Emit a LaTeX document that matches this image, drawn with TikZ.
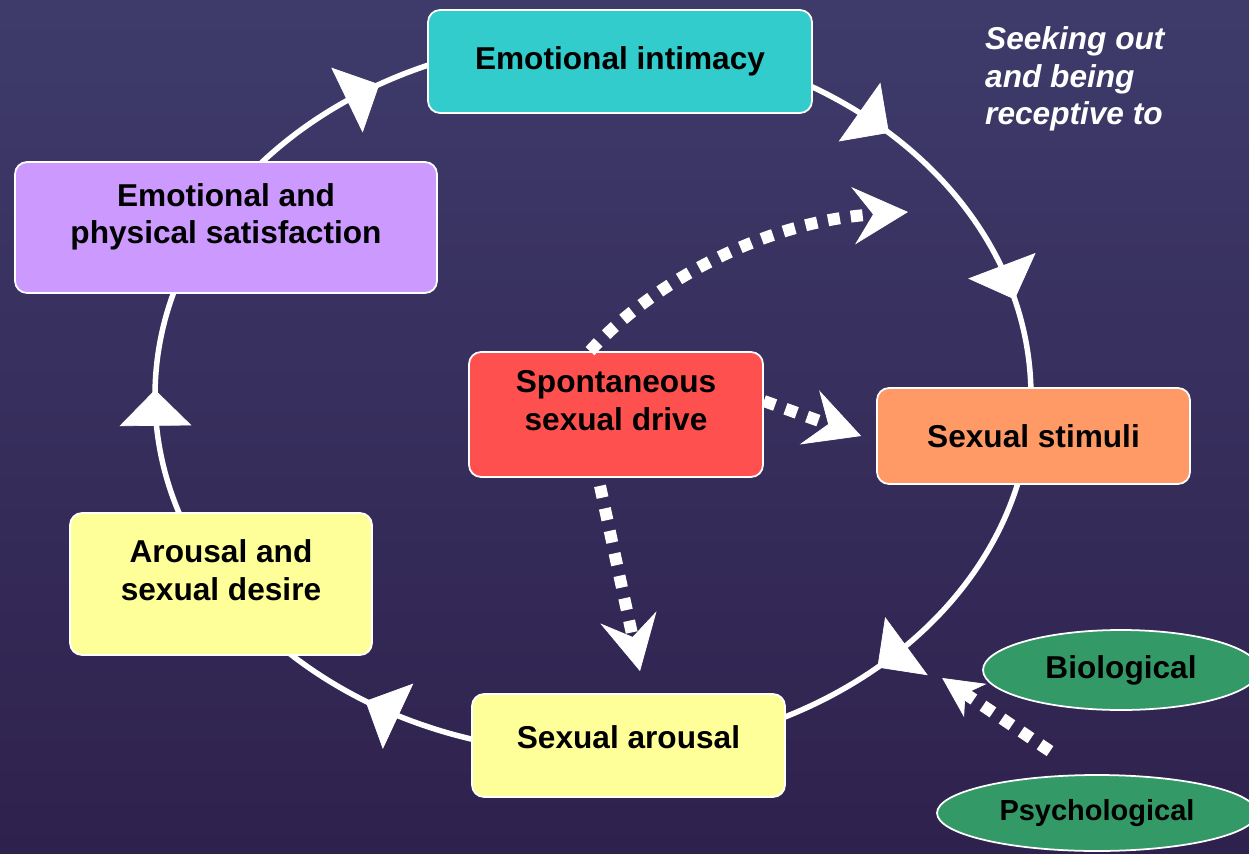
\documentclass[tikz,border=0pt]{standalone}
\usepackage{fontspec}
\setmainfont{Liberation Sans}
\usetikzlibrary{arrows.meta,positioning,calc,shapes}

\begin{document}
\begin{tikzpicture}[x=0.02cm,y=-0.02cm,
  box/.style={draw=white,line width=1pt,rounded corners=0.24cm,inner sep=0pt,
    align=center,text=black,font={\fontsize{18}{21.3}\selectfont\bfseries}},
  twoline/.style={text depth=0.56cm},
  oval/.style={ellipse,draw=white,line width=1pt,inner sep=0pt,text=black,
    font={\fontsize{18}{21}\selectfont\bfseries}},
  ring/.style={white,line width=0.11cm},
  dots/.style={white,line width=0.24cm,dash pattern=on 0.24cm off 0.22cm}]
  \def\ctop{rgb,255:red,62;green,59;blue,107}
  \def\cbot{rgb,255:red,47;green,33;blue,77}
  \def\cteal{rgb,255:red,51;green,204;blue,204}
  \def\clilac{rgb,255:red,204;green,153;blue,255}
  \def\cred{rgb,255:red,255;green,80;blue,80}
  \def\corange{rgb,255:red,255;green,153;blue,102}
  \def\cyellow{rgb,255:red,255;green,255;blue,153}
  \def\cleaf{rgb,255:red,51;green,153;blue,102}
  \def\bighead{Stealth[length=1.1cm,width=1.15cm,inset=0.4cm,line width=0.4pt]}

  \useasboundingbox (0,0) rectangle (1249,853);
  \shade[top color=\ctop,bottom color=\cbot] (0,0) rectangle (1249,853);

  % the cycle
  \coordinate (ctr) at (593,396);
  \draw[ring] (ctr) ellipse [x radius=438, y radius=357];
  \foreach \t in {49.5,121.3,181,240.8,312.5,344.3} {
    \pgfmathsetmacro{\s}{\t-3}
    \draw[ring,-{Triangle[length=0.72cm,width=1.44cm,line width=0.4pt]}]
      ($(ctr)+(\s:438 and 357)$) -- ($(ctr)+(\t:438 and 357)$);
  }

  \node[box,fill=\cteal,minimum width=7.68cm,minimum height=2.06cm] (intimacy) at (620,61.5) {Emotional intimacy};
  \node[box,twoline,fill=\clilac,minimum width=8.44cm,minimum height=2.62cm] (satisf) at (226,227.5) {Emotional and\\physical satisfaction};
  \node[box,twoline,fill=\cred,minimum width=5.88cm,minimum height=2.5cm] (drive) at (616,414.5) {Spontaneous\\sexual drive};
  \node[box,fill=\corange,minimum width=6.26cm,minimum height=1.92cm] (stimuli) at (1033.5,436) {Sexual stimuli};
  \node[box,twoline,fill=\cyellow,minimum width=6.04cm,minimum height=2.84cm] (desire) at (221,584) {Arousal and\\sexual desire};
  \node[box,fill=\cyellow,text depth=0.34cm,minimum width=6.26cm,minimum height=2.06cm] (sarousal) at (628.5,745.5) {Sexual arousal};
  \node[oval,fill=\cleaf,minimum width=5.52cm,minimum height=1.6cm] (bio) at (1121,670) {Biological};
  \node[oval,fill=\cleaf,minimum width=6.4cm,minimum height=1.52cm,font={\fontsize{16.5}{20}\selectfont\bfseries}] (psych) at (1097,813) {Psychological};
  \node[anchor=west,align=left,text=white,font={\fontsize{18}{21.3}\selectfont\bfseries\itshape}] (seektxt) at (979,79) {Seeking out\\and being\\receptive to};

  % dotted influences
  \coordinate (seekend) at (908,212);
  \draw[dots,-{\bighead}] ([xshift=-0.52cm]drive.north) .. controls (650,285) and (760,222) .. (seekend);
  \draw[dots,-{\bighead}] ([yshift=0.27cm]drive.east) -- ([xshift=-0.3cm]stimuli.west);
  \draw[dots,-{\bighead}] ([xshift=-0.32cm,yshift=-0.16cm]drive.south) -- ([xshift=0.23cm,yshift=0.44cm]sarousal.north);
  \draw[dots,-{Stealth[length=0.8cm,width=0.8cm,inset=0.24cm,line width=0.4pt]}]
    ([xshift=-0.94cm,yshift=0.46cm]psych.north) -- ([xshift=-0.8cm,yshift=-0.16cm]bio.west);
\end{tikzpicture}
\end{document}
